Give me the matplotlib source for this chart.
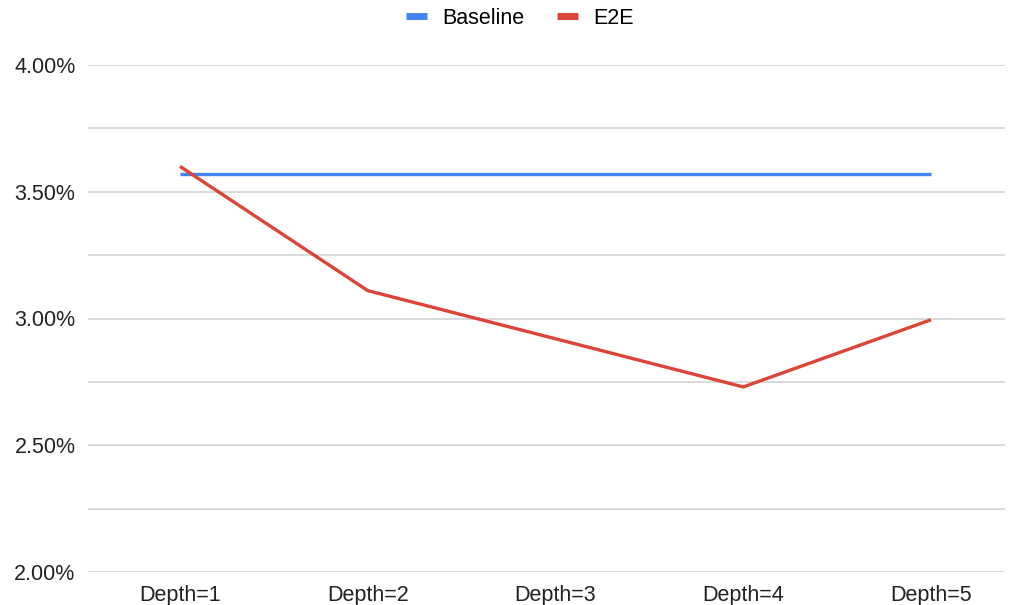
import numpy as np
import matplotlib.pyplot as plt
from matplotlib.ticker import MultipleLocator, FuncFormatter

plt.rcParams["font.family"] = ["Liberation Sans", "DejaVu Sans"]

depths = ["Depth=1", "Depth=2", "Depth=3", "Depth=4", "Depth=5"]
baseline = [3.57, 3.57, 3.57, 3.57, 3.57]
e2e = [3.60, 3.11, 2.92, 2.73, 2.995]

blue = "#4285F4"
red = "#DB4437"

fig = plt.figure(figsize=(10.17, 6.05), dpi=100)
ax = fig.add_axes([88/1017, 33/605, (1005-88)/1017, (572-65)/605])

x = np.arange(len(depths))
ax.plot(x, baseline, color=blue, lw=2.4, label="Baseline", solid_capstyle="butt")
ax.plot(x, e2e, color=red, lw=2.4, label="E2E", solid_capstyle="butt")

ax.set_xlim(-0.49, 4.394)
ax.set_ylim(2.0, 4.0)
ax.set_xticks(x)
ax.set_xticklabels(depths)
ax.yaxis.set_major_locator(MultipleLocator(0.5))
ax.yaxis.set_minor_locator(MultipleLocator(0.25))
ax.yaxis.set_major_formatter(FuncFormatter(lambda v, p: "%.2f%%" % v))
ax.grid(axis="y", which="both", color="#d3d3d3", lw=1.2)
ax.set_axisbelow(True)
for s in ax.spines.values():
    s.set_visible(False)
ax.tick_params(axis="both", which="both", length=0, labelsize=15.5, colors="#222222")
ax.tick_params(axis="y", pad=9)
ax.tick_params(axis="x", pad=9)

handles = [plt.Line2D([], [], color=blue, lw=5, solid_capstyle="butt"),
           plt.Line2D([], [], color=red, lw=5, solid_capstyle="butt")]
fig.legend(handles, ["Baseline", "E2E"], loc="center", bbox_to_anchor=(0.511, 1 - 18/605),
           ncol=2, frameon=False, fontsize=15.5, handlelength=1.0, handletextpad=0.7,
           columnspacing=1.5)

fig.savefig("out.png", dpi=100)
